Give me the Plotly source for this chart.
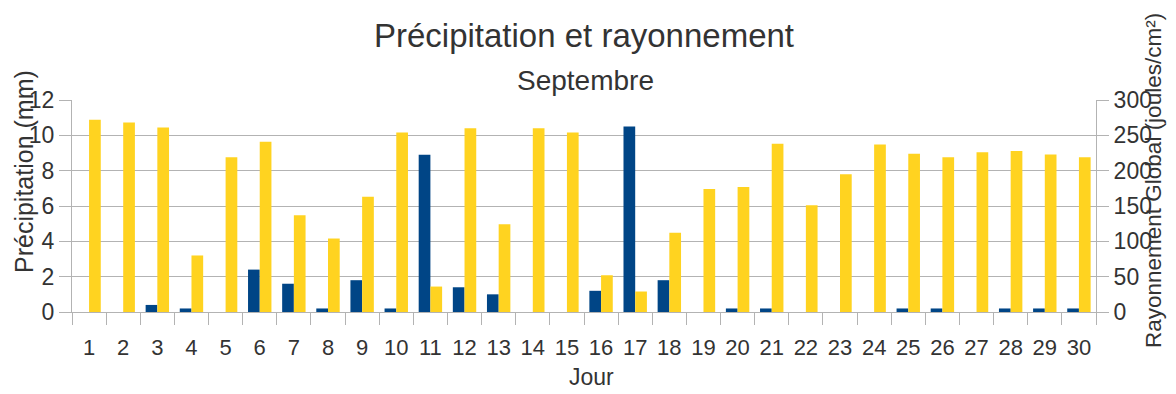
import plotly.graph_objects as go

# Daily values for September
jours = [str(d) for d in range(1, 31)]
precipitation_mm = [0, 0, 0.4, 0.2, 0, 2.4, 1.6, 0.2, 1.8, 0.2,
                    8.9, 1.4, 1.0, 0, 0, 1.2, 10.5, 1.8, 0, 0.2,
                    0.2, 0, 0, 0, 0.2, 0.2, 0, 0.2, 0.2, 0.2]
rayonnement_j_cm2 = [272, 268, 261, 80, 219, 241, 137, 104, 163, 254,
                     36, 260, 124, 260, 254, 52, 29, 112, 174, 177,
                     238, 151, 195, 237, 224, 219, 226, 228, 223, 219]

BLUE = "#004586"
YELLOW = "#ffd320"
GRID = "#b3b3b3"
TEXT = "#333333"
FONT = "Liberation Sans"

W, H = 1176, 394
L, R, T, B = 72, 80, 100, 82
PW, PH = W - L - R, H - T - B


def px_x(x):
    return (x - L) / PW


def px_y(y):
    return (H - B - y) / PH


bar_w = 0.343

fig = go.Figure()
fig.add_trace(go.Bar(
    x=jours, y=precipitation_mm, name="Précipitation",
    marker=dict(color=BLUE, line=dict(width=0)),
    width=bar_w, offset=-bar_w, yaxis="y",
))
fig.add_trace(go.Bar(
    x=jours, y=rayonnement_j_cm2, name="Rayonnement",
    marker=dict(color=YELLOW, line=dict(width=0)),
    width=bar_w, offset=0, yaxis="y2",
))

fig.update_layout(
    width=W, height=H, autosize=False,
    margin=dict(l=L, r=R, t=T, b=B, pad=0),
    paper_bgcolor="white", plot_bgcolor="white",
    showlegend=False,
    barmode="overlay",
    font=dict(family=FONT, color=TEXT, size=22),
    title=dict(
        text="Précipitation et rayonnement",
        font=dict(family=FONT, size=33, color=TEXT),
        x=px_x(584), xref="paper", xanchor="center",
        y=1 - 35 / H, yref="container", yanchor="middle",
    ),
    xaxis=dict(
        type="category", tickson="boundaries",
        ticks="outside", ticklen=12, tickcolor=GRID, tickwidth=1,
        ticklabelstandoff=16,
        showline=True, linecolor=GRID, linewidth=1,
        showgrid=False, zeroline=False,
        tickfont=dict(family=FONT, size=22, color=TEXT),
        range=[-0.5, 29.5],
    ),
    yaxis=dict(
        range=[0, 12], dtick=2, tick0=0,
        showgrid=True, gridcolor=GRID, gridwidth=1,
        ticks="outside", ticklen=12, tickcolor=GRID,
        showline=True, linecolor=GRID, linewidth=1,
        zeroline=False,
        tickfont=dict(family=FONT, size=23, color=TEXT),
    ),
    yaxis2=dict(
        range=[0, 300], dtick=50, tick0=0,
        overlaying="y", side="right",
        showgrid=False,
        ticks="outside", ticklen=12, tickcolor=GRID,
        showline=True, linecolor=GRID, linewidth=1,
        zeroline=False,
        tickfont=dict(family=FONT, size=23, color=TEXT),
    ),
    annotations=[
        dict(text="Septembre", xref="paper", yref="paper",
             x=px_x(585), y=px_y(80), xanchor="center", yanchor="middle",
             showarrow=False, font=dict(family=FONT, size=28, color=TEXT)),
        dict(text="Précipitation (mm)", xref="paper", yref="paper",
             x=px_x(24), y=px_y(172), xanchor="center", yanchor="middle",
             textangle=-90, showarrow=False,
             font=dict(family=FONT, size=25, color=TEXT)),
        dict(text="Rayonnement Global (joules/cm²)", xref="paper", yref="paper",
             x=px_x(1153), y=px_y(181), xanchor="center", yanchor="middle",
             textangle=-90, showarrow=False,
             font=dict(family=FONT, size=22.5, color=TEXT)),
        dict(text="Jour", xref="paper", yref="paper",
             x=px_x(591), y=px_y(377), xanchor="center", yanchor="middle",
             showarrow=False, font=dict(family=FONT, size=23, color=TEXT)),
    ],
)

fig.write_html("out.html")
